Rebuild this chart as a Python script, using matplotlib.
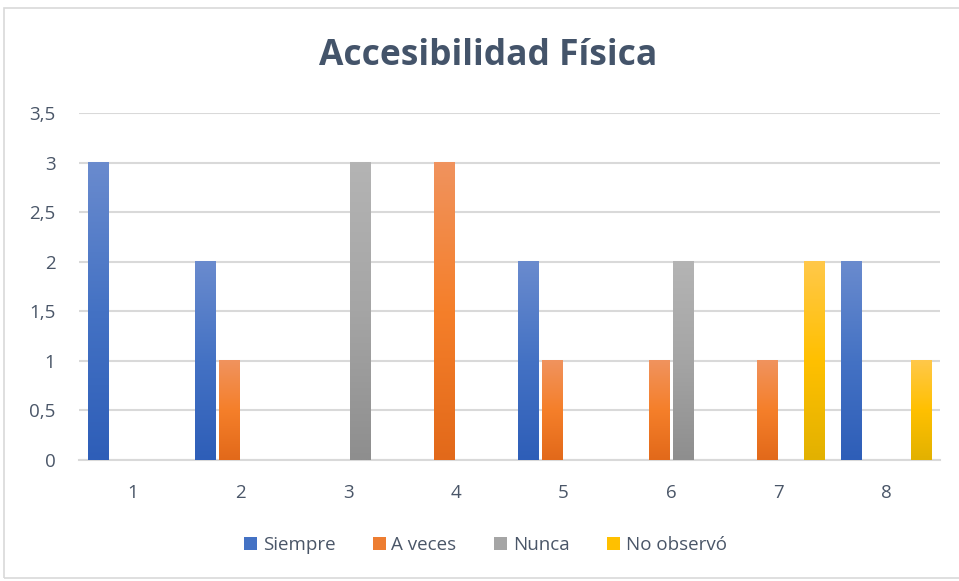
import numpy as np
import matplotlib
matplotlib.use("Agg")
import matplotlib.pyplot as plt
from matplotlib.colors import LinearSegmentedColormap
from matplotlib.patches import Rectangle, Patch

categories = ["1", "2", "3", "4", "5", "6", "7", "8"]
series = ["Siempre", "A veces", "Nunca", "No observó"]
siempre = [3, 2, 0, 0, 2, 0, 0, 2]
a_veces = [0, 1, 0, 3, 1, 1, 1, 0]
nunca = [0, 0, 3, 0, 0, 2, 0, 0]
no_observo = [0, 0, 0, 0, 0, 0, 2, 1]
values = [siempre, a_veces, nunca, no_observo]
yticks = [0, 0.5, 1, 1.5, 2, 2.5, 3, 3.5]
ytick_labels = ["0", "0,5", "1", "1,5", "2", "2,5", "3", "3,5"]

# gradient stops per series: bottom (dark), middle, top (light)
grads = [
    ["#2E5EB8", "#4472C4", "#6A8BCE"],
    ["#E2691A", "#F57F2A", "#F0935E"],
    ["#8E8E8E", "#A5A5A5", "#B4B4B4"],
    ["#E2B100", "#FFC000", "#FFC84A"],
]
solid = ["#4472C4", "#ED7D31", "#A5A5A5", "#FFC000"]
text_col = "#4A5668"

plt.rcParams['font.family'] = ['Open Sans', 'DejaVu Sans']

fig = plt.figure(figsize=(9.59, 5.81), dpi=100)
fig.patches.append(Rectangle((4 / 959, 3 / 581), 960 / 959, 570 / 581,
                             transform=fig.transFigure, fill=False,
                             edgecolor="#D9D9D9", linewidth=1.2))
ax = fig.add_axes([79 / 959, 121 / 581, 861 / 959, 347 / 581])

x = np.arange(len(categories))
bw = 0.186
step = 0.218
grad_img = np.linspace(0, 1, 256).reshape(-1, 1)
for i, vals in enumerate(values):
    cmap = LinearSegmentedColormap.from_list("g%d" % i, grads[i])
    for xi, v in zip(x, vals):
        if v <= 0:
            continue
        x0 = xi + (i - 1.5) * step - bw / 2
        ax.imshow(grad_img, extent=[x0, x0 + bw, 0, v], origin="lower",
                  cmap=cmap, aspect="auto", zorder=3, interpolation="bilinear")

ax.set_xlim(-0.5, len(categories) - 0.5)
ax.set_ylim(0, 3.5)
ax.set_xticks(x)
ax.set_xticklabels(categories)
ax.set_yticks(yticks)
ax.set_yticklabels(ytick_labels)
ax.tick_params(axis="both", length=0, labelsize=13.5, labelcolor=text_col)
ax.tick_params(axis="x", pad=17)
ax.tick_params(axis="y", pad=17)
for s in ["top", "right", "left"]:
    ax.spines[s].set_visible(False)
ax.spines["bottom"].set_color("#D9D9D9")
ax.spines["bottom"].set_linewidth(1.5)
ax.grid(axis="y", color="#D9D9D9", linewidth=1.5, zorder=0)
ax.set_axisbelow(True)

fig.text(0.509, 0.904, "Accesibilidad Física", ha="center", va="center",
         fontsize=25.5, fontweight="bold", color="#44546A")

handles = [Patch(facecolor=c, edgecolor="none") for c in solid]
fig.legend(handles, series, loc="center", bbox_to_anchor=(0.506, 0.062),
           ncol=4, frameon=False, fontsize=13.5, handlelength=0.7,
           handleheight=0.7, handletextpad=0.3, columnspacing=2.0,
           labelcolor=text_col)

fig.savefig("out.png", dpi=100)
